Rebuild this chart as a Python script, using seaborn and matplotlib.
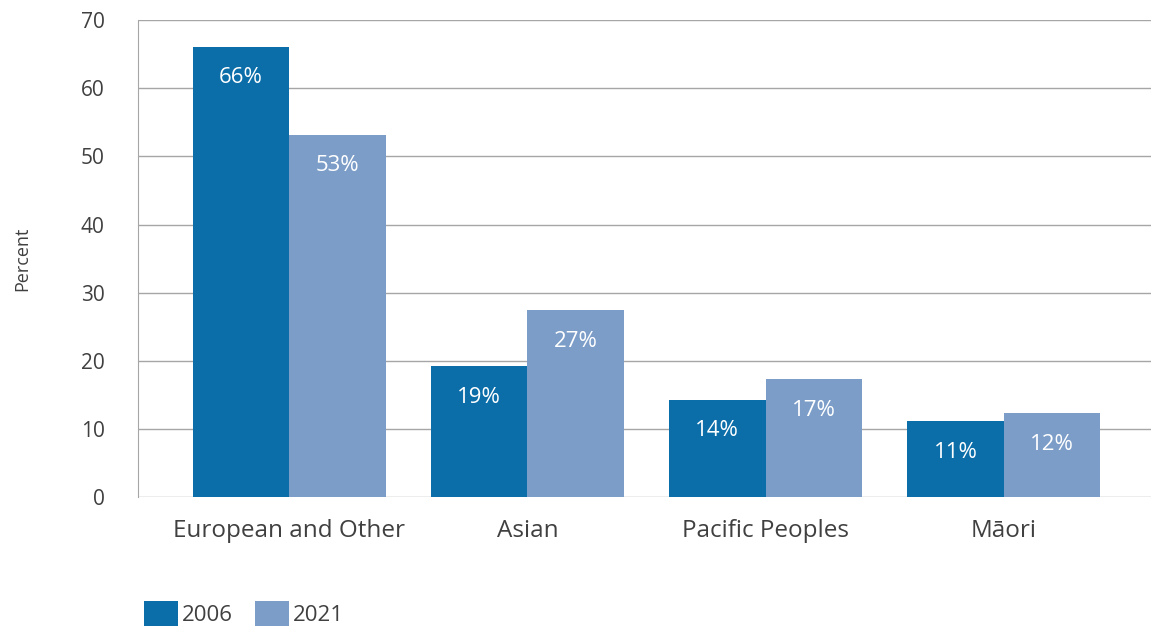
import pandas as pd
import seaborn as sns
import matplotlib.pyplot as plt

# Dati
categories = ["European and Other", "Asian", "Pacific Peoples", "Māori"]
years = ["2006", "2021"]
values_2006 = [66.1, 19.2, 14.3, 11.2]
values_2021 = [53.2, 27.4, 17.3, 12.3]
labels_2006 = ["66%", "19%", "14%", "11%"]
labels_2021 = ["53%", "27%", "17%", "12%"]

colors = ["#0b6ea9", "#7c9dc8"]
text_color = "#404040"
grid_color = "#a6a6a6"

df = pd.DataFrame({
    "category": categories * 2,
    "year": [years[0]] * 4 + [years[1]] * 4,
    "value": values_2006 + values_2021,
})

sns.set_style("white")
plt.rcParams["font.family"] = ["Open Sans", "DejaVu Sans"]

fig = plt.figure(figsize=(11.51, 6.27), dpi=100)
ax = fig.add_axes([0.12, 0.207, 0.88, 0.761])

sns.barplot(data=df, x="category", y="value", hue="year", order=categories,
            hue_order=years, palette=colors, width=0.81, saturation=1,
            linewidth=0, ax=ax, legend=True)

# Etichette dentro le barre
for container, labels in zip(ax.containers, [labels_2006, labels_2021]):
    for bar, lab in zip(container, labels):
        ax.annotate(lab, (bar.get_x() + bar.get_width() / 2, bar.get_height()),
                    xytext=(0, -22.5), textcoords="offset points",
                    ha="center", va="center", color="white", fontsize=16)

ax.set_ylim(0, 70)
ax.set_yticks(range(0, 71, 10))
ax.set_xlim(-0.634, 3.618)
ax.yaxis.grid(True, color=grid_color, linewidth=1)
ax.set_axisbelow(True)
for side in ["top", "right", "bottom"]:
    ax.spines[side].set_visible(False)
ax.spines["left"].set_color(grid_color)
ax.tick_params(axis="both", length=0, colors=text_color)
ax.tick_params(axis="x", pad=16, labelsize=17.5)
ax.tick_params(axis="y", pad=24, labelsize=15)
ax.set_xlabel("")
ax.set_ylabel("Percent", fontsize=13, color=text_color, labelpad=36)

handles, leg_labels = ax.get_legend_handles_labels()
ax.get_legend().remove()
fig.legend(handles, leg_labels, loc="upper left",
           bbox_to_anchor=(0.110, 1 - 583 / 627), ncol=2, frameon=False,
           fontsize=16, labelcolor=text_color, handlelength=1.5,
           handleheight=1.4, handletextpad=0.2, columnspacing=1.0,
           borderpad=0.3)

fig.savefig("out.png", dpi=100)
